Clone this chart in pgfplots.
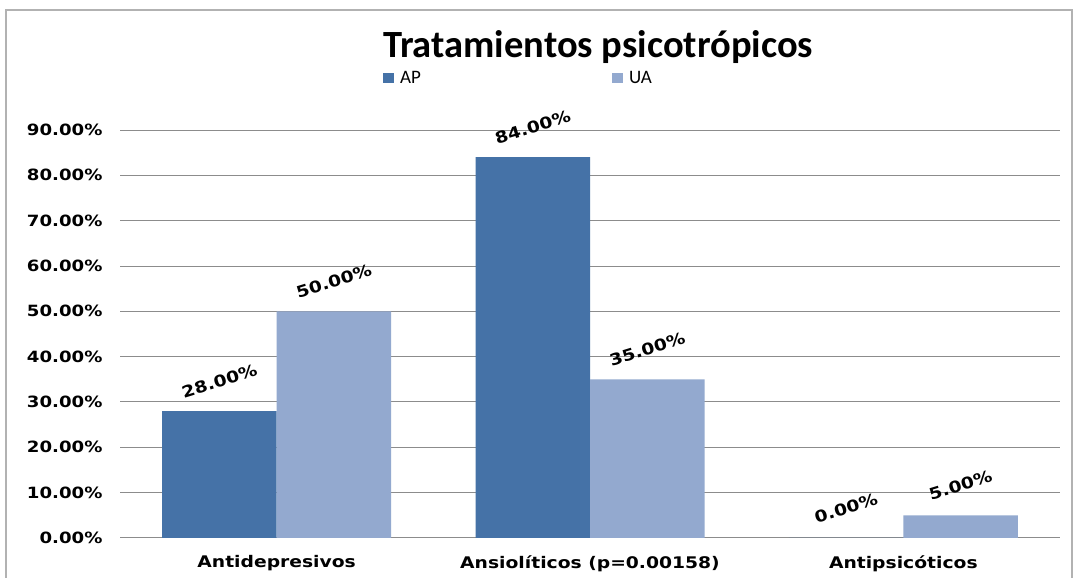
\documentclass[border=0pt]{standalone}
\usepackage{pgfplots}
\pgfplotsset{compat=1.18}
\usepackage{fontspec}
\setmainfont{Carlito}
\newfontfamily\dejavu{DejaVu Sans}[FakeStretch=1.17]
\definecolor{apcol}{HTML}{4572A7}
\definecolor{uacol}{HTML}{93A9CF}
\definecolor{gridc}{HTML}{8C8C8C}
\begin{document}
\begin{tikzpicture}[x=1pt,y=1pt]
\useasboundingbox (0,0) rectangle (1079,578);
\fill[white] (0,0) rectangle (1079,578);
\draw[gray!60, line width=1.2pt] (6,-5) -- (6,568) -- (1072,568) -- (1072,-5);
\node[font=\fontsize{38.5}{42}\selectfont\bfseries] at (598,531) {Tratamientos psicotrópicos};
\begin{axis}[
  at={(120pt,40pt)}, anchor=south west,
  scale only axis, width=940pt, height=408pt,
  xmin=-0.5, xmax=2.5, ymin=0, ymax=90,
  ybar=0pt, bar width=114.5pt,
  axis line style={draw=none},
  axis x line*=bottom,
  xtick={0,1,2},
  xticklabels={Antidepresivos, Ansiolíticos (p=0.00158), Antipsicóticos},
  xtick style={draw=none},
  ytick={0,10,...,90},
  ytick style={draw=none},
  ymajorgrids, major grid style={gridc, line width=1pt},
  /pgf/number format/assume math mode=true,
  yticklabel={\pgfmathprintnumber[fixed,fixed zerofill,precision=2]{\tick}\%},
  yticklabel style={font=\dejavu\bfseries\fontsize{15.5}{18}\selectfont, xshift=-14pt},
  xticklabel style={font=\dejavu\bfseries\fontsize{16}{18}\selectfont, yshift=-10pt},
  nodes near coords={\pgfmathprintnumber[fixed,fixed zerofill,precision=2]{\pgfplotspointmeta}\%},
  every node near coord/.append style={font=\dejavu\bfseries\fontsize{16}{18}\selectfont, anchor=center, yshift=30pt, rotate=17, text=black},
  legend style={at={(0.2798,1.1275)}, anchor=west, draw=none, fill=none, font=\fontsize{19}{21}\selectfont, legend columns=2,
    /tikz/every even column/.append style={column sep=189pt}, inner sep=0pt,
    /tikz/every odd column/.append style={column sep=4pt}},
  legend image code/.code={\path[fill] (0pt,-5pt) rectangle (11pt,5pt);},
  clip=false,
]
\addplot[fill=apcol, draw=none] coordinates {(0,28) (1,84) (2,0)};
\addplot[fill=uacol, draw=none] coordinates {(0,50) (1,35) (2,5)};
\legend{AP, UA}
\end{axis}
\end{tikzpicture}
\end{document}
